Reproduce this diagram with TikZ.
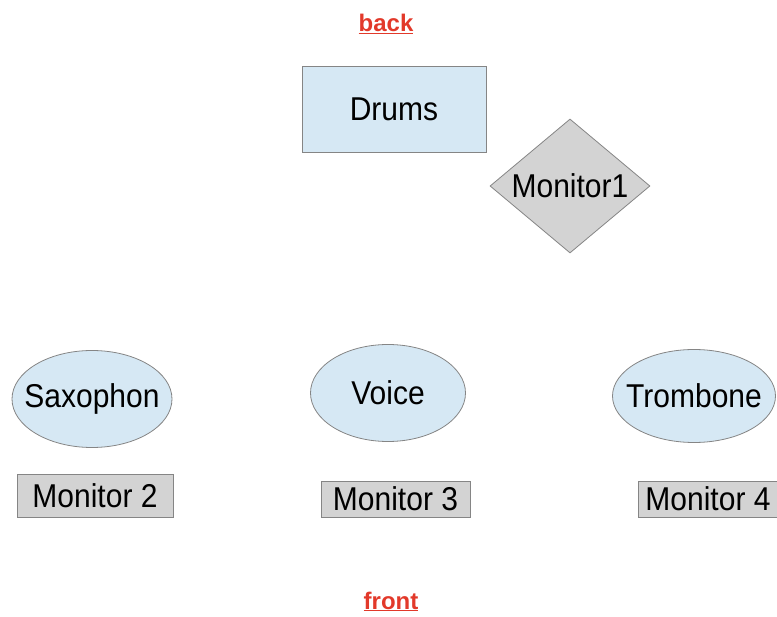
\documentclass[tikz,border=0pt]{standalone}
\usepackage{fontspec}
\setmainfont{Liberation Sans}
\usetikzlibrary{shapes.geometric}
\definecolor{lblue}{HTML}{D6E8F4}
\definecolor{mgray}{HTML}{D3D3D3}
\definecolor{edgegray}{HTML}{858585}
\definecolor{labred}{HTML}{E2392A}
\tikzset{
  lbl/.style={font=\fontsize{30}{36}\selectfont, text=black},
  boxblue/.style={rectangle, draw=edgegray, fill=lblue, line width=0.8pt, inner sep=0pt, lbl},
  boxgray/.style={rectangle, draw=edgegray, fill=mgray, line width=0.8pt, inner sep=0pt, lbl},
  ellblue/.style={ellipse, draw=edgegray, fill=lblue, line width=0.8pt, inner sep=0pt, lbl},
  diagray/.style={diamond, draw=edgegray, fill=mgray, line width=0.8pt, inner sep=0pt, lbl},
  sidelabel/.style={font=\fontsize{24}{28}\selectfont\bfseries, text=labred, inner sep=0pt, anchor=base}
}
\begin{document}
\begin{tikzpicture}[x=1pt,y=-1pt]
\useasboundingbox (0,0) rectangle (777,617);
\clip (0,0) rectangle (777,617);
\node[sidelabel] (back) at (386,32) {\underline{back}};
\node[boxblue, minimum width=184pt, minimum height=86pt] (drums) at (394,109) {\scalebox{1}[1.1]{Drums}};
\node[diagray, minimum width=160pt, minimum height=134pt] (mon1) at (570,186) {\makebox[0pt]{\scalebox{1}[1.1]{Monitor1}}};
\node[ellblue, minimum width=160pt, minimum height=97pt] (sax) at (92,399) {\makebox[0pt]{\scalebox{1}[1.1]{Saxophon}}};
\node[ellblue, minimum width=155pt, minimum height=97pt] (voice) at (388,393) {\makebox[0pt]{\scalebox{1}[1.1]{Voice}}};
\node[ellblue, minimum width=163pt, minimum height=93pt] (trom) at (694,396) {\makebox[0pt]{\scalebox{1}[1.1]{Trombone}}};
\node[boxgray, minimum width=156pt, minimum height=43pt] (mon2) at (95,495.5) {\scalebox{1}[1.1]{Monitor 2}};
\node[boxgray, minimum width=149pt, minimum height=36pt] (mon3) at (395.5,499) {\scalebox{1}[1.1]{Monitor 3}};
\node[boxgray, minimum width=140pt, minimum height=36pt] (mon4) at (708,499) {\scalebox{1}[1.1]{Monitor 4}};
\node[sidelabel] (front) at (391,609) {\underline{front}};
\end{tikzpicture}
\end{document}
